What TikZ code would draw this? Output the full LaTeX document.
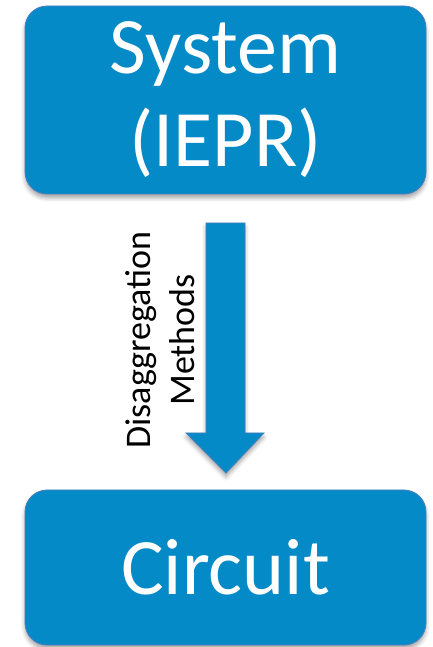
\documentclass[tikz,border=0pt]{standalone}
\usepackage{fontspec}
\setmainfont{Carlito}
\usetikzlibrary{shadows.blur}
\definecolor{boxblue}{HTML}{058AC8}
\definecolor{edgeblue}{HTML}{4A7EBB}
\tikzset{
  blockbox/.style={draw=edgeblue, line width=0.8pt, fill=boxblue, rounded corners=22pt,
    text=white, align=center, inner sep=0pt,
    blur shadow={shadow xshift=0pt, shadow yshift=-4pt, shadow blur radius=4pt, shadow opacity=35}},
  bigtext/.style={font=\fontsize{80}{93}\selectfont},
  blockarrow/.style={draw=edgeblue, line width=0.8pt, fill=boxblue,
    blur shadow={shadow xshift=0pt, shadow yshift=-4pt, shadow blur radius=4pt, shadow opacity=35}},
}
\begin{document}
\begin{tikzpicture}[x=1pt,y=1pt]
\useasboundingbox (0,0) rectangle (432,647);
\node[blockbox, bigtext, minimum width=401pt, minimum height=188pt] (sys) at (225.5,547) {System\\(IEPR)};
\node[blockbox, bigtext, minimum width=401pt, minimum height=155pt] (cir) at (225.5,79.5) {Circuit};
\draw[blockarrow] (206,424) -- (245,424) -- (245,214) -- (264,214) -- (226,174) -- (186,214) -- (206,214) -- cycle;
\node[rotate=90, align=center, font=\fontsize{36}{44}\selectfont] (lbl) at (160,307) {Disaggregation\\Methods};
\end{tikzpicture}
\end{document}
